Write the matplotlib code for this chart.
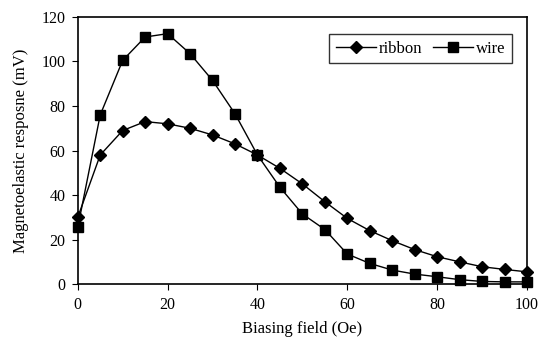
import matplotlib
matplotlib.use("Agg")
import matplotlib.pyplot as plt

plt.rcParams['font.family'] = ['Liberation Serif', 'DejaVu Serif']

# biasing field (Oe)
field = [0, 5, 10, 15, 20, 25, 30, 35, 40, 45, 50, 55, 60, 65, 70, 75, 80, 85, 90, 95, 100]
# magnetoelastic response (mV)
ribbon = [30, 58, 69, 73, 72, 70, 67, 63, 58, 52, 45, 37, 29.5, 24, 19.5, 15.5, 12.3, 10, 7.8, 6.6, 5.5]
wire = [25.5, 76, 100.5, 111, 112.5, 103.5, 91.5, 76.5, 58, 43.5, 31.5, 24.5, 13.5, 9.3, 6.3, 4.5, 3.3, 2, 1.2, 1, 1]

fig = plt.figure(figsize=(5.4, 3.61), dpi=100)
ax = fig.add_axes([0.144, 0.213, 0.832, 0.74])

ax.plot(field, ribbon, color='black', lw=1, marker='D', ms=6, label='ribbon', clip_on=False, zorder=3)
ax.plot(field, wire, color='black', lw=1, marker='s', ms=7, label='wire', clip_on=False, zorder=3)

ax.set_xlim(0, 100)
ax.set_ylim(0, 120)
ax.set_xticks(range(0, 101, 20))
ax.set_yticks(range(0, 121, 20))
ax.tick_params(direction='out', length=4, labelsize=11.5, color='black', pad=5)
for s in ax.spines.values():
    s.set_linewidth(1.2)

ax.set_xlabel('Biasing field (Oe)', fontsize=12, labelpad=6)
ax.set_ylabel('Magnetoelastic resposne (mV)', fontsize=12, labelpad=9)

leg = ax.legend(loc='upper right', ncol=2, fontsize=12, frameon=True, fancybox=False,
                edgecolor='black', handlelength=2.4, columnspacing=0.6,
                handletextpad=0.2, borderpad=0.4, borderaxespad=0,
                bbox_to_anchor=(0.967, 0.936))
leg.get_frame().set_linewidth(1)

fig.savefig('out.png', dpi=100)
